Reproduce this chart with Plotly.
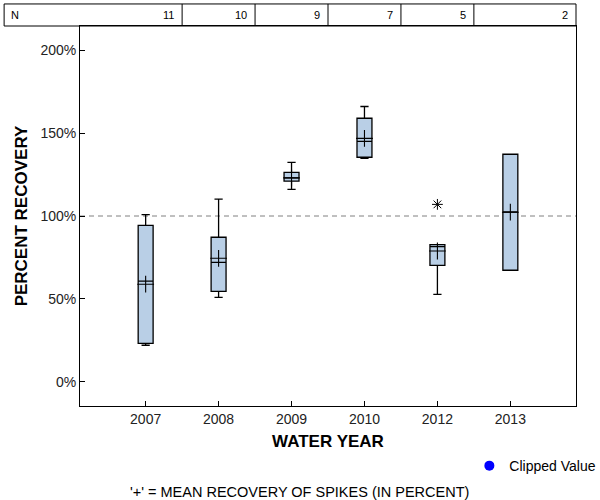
import plotly.graph_objects as go

years = ['2007', '2008', '2009', '2010', '2012', '2013']
n_counts = [11, 10, 9, 7, 5, 2]
whisker_low = [22.1, 51.0, 116.1, 134.8, 52.8, 67.3]
q1 = [23.3, 54.6, 121.0, 135.4, 70.3, 67.3]
median = [60.7, 72.1, 123.0, 145.0, 81.5, 102.4]
q3 = [94.4, 87.2, 126.3, 158.9, 82.7, 137.2]
whisker_high = [100.8, 110.2, 132.3, 166.0, 82.7, 137.2]
means = [58.9, 74.5, 123.0, 146.8, 78.9, 102.3]
outlier_years = ['2012']
outlier_vals = [107.0]
y_ticks = [0, 50, 100, 150, 200]
y_ticklabels = ['0%', '50%', '100%', '150%', '200%']

FONT = "Arial, Liberation Sans, sans-serif"

fig = go.Figure()
fig.add_trace(go.Box(
    x=years, q1=q1, median=median, q3=q3,
    lowerfence=whisker_low, upperfence=whisker_high,
    width=0.205, whiskerwidth=0.55,
    fillcolor='#b9cfe6', line=dict(color='black', width=1.3),
    boxpoints=False, showlegend=False, hoverinfo='skip'))
fig.add_trace(go.Scatter(
    x=years, y=means, mode='markers', showlegend=False,
    marker=dict(symbol='cross-thin', size=12, color='black',
                line=dict(color='black', width=1.1))))
fig.add_trace(go.Scatter(
    x=outlier_years, y=outlier_vals, mode='markers', showlegend=False,
    marker=dict(symbol='asterisk-open', size=9, color='black',
                line=dict(color='black', width=1))))
fig.add_trace(go.Scatter(
    x=[None], y=[None], mode='markers', name='Clipped Value',
    marker=dict(symbol='circle', size=10, color='#0000ff')))

shapes = []
# 100% reference line
shapes.append(dict(type='line', xref='paper', yref='y', x0=0, x1=1, y0=100, y1=100,
                   line=dict(color='#808080', width=1, dash='5px,4px'), layer='below'))
# N table
tbl_top = 1.058
shapes.append(dict(type='rect', xref='paper', yref='paper', x0=-0.153, x1=1, y0=1, y1=tbl_top,
                   line=dict(color='black', width=1)))
for i in range(len(years) - 1):
    shapes.append(dict(type='line', xref='x', yref='paper', x0=i + 0.5, x1=i + 0.5,
                       y0=1, y1=tbl_top, line=dict(color='black', width=1)))

annotations = [dict(text='N', xref='paper', yref='paper', x=-0.153, y=(1 + tbl_top) / 2,
                    xanchor='left', yanchor='middle', xshift=5, showarrow=False,
                    font=dict(family=FONT, size=11, color='black'))]
for i, n in enumerate(n_counts):
    if i < len(n_counts) - 1:
        annotations.append(dict(text=str(n), xref='x', yref='paper', x=i + 0.5,
                                y=(1 + tbl_top) / 2, xanchor='right', yanchor='middle',
                                xshift=-6, showarrow=False,
                                font=dict(family=FONT, size=11, color='black')))
    else:
        annotations.append(dict(text=str(n), xref='paper', yref='paper', x=1,
                                y=(1 + tbl_top) / 2, xanchor='right', yanchor='middle',
                                xshift=-6, showarrow=False,
                                font=dict(family=FONT, size=11, color='black')))
annotations.append(dict(text="'+' = MEAN RECOVERY OF SPIKES (IN PERCENT)",
                        xref='paper', yref='paper', x=0.4435, y=-0.225,
                        xanchor='center', yanchor='middle', showarrow=False,
                        font=dict(family=FONT, size=14.5, color='black')))

fig.update_layout(
    width=600, height=500,
    margin=dict(l=80, r=24, t=26, b=94, autoexpand=False),
    plot_bgcolor='white', paper_bgcolor='white',
    font=dict(family=FONT, size=13, color='black'),
    shapes=shapes, annotations=annotations,
    showlegend=True,
    legend=dict(x=0.785, y=-0.158, xanchor='left', yanchor='middle',
                font=dict(family=FONT, size=14, color='black'), bgcolor='rgba(0,0,0,0)'),
    xaxis=dict(type='category', range=[-0.9, 5.9], showline=True, mirror=True,
               linecolor='black', linewidth=1, ticks='inside', ticklen=5,
               tickcolor='black', showgrid=False, zeroline=False, automargin=False,
               tickfont=dict(family=FONT, size=14, color='#222'),
               title=dict(text='WATER YEAR', standoff=9,
                          font=dict(family=FONT, size=17, color='black', weight='bold'))),
    yaxis=dict(range=[-14.5, 214.5], tickmode='array', tickvals=y_ticks,
               ticktext=y_ticklabels,
               showline=True, mirror=True, linecolor='black', linewidth=1,
               ticks='inside', ticklen=5, tickcolor='black', showgrid=False,
               zeroline=False, automargin=False,
               tickfont=dict(family=FONT, size=14, color='#222'),
               title=dict(text='PERCENT RECOVERY', standoff=8,
                          font=dict(family=FONT, size=17, color='black', weight='bold'))),
)

fig.write_html("out.html", config={'displayModeBar': False},
               post_script="document.body.style.margin='0px';")
